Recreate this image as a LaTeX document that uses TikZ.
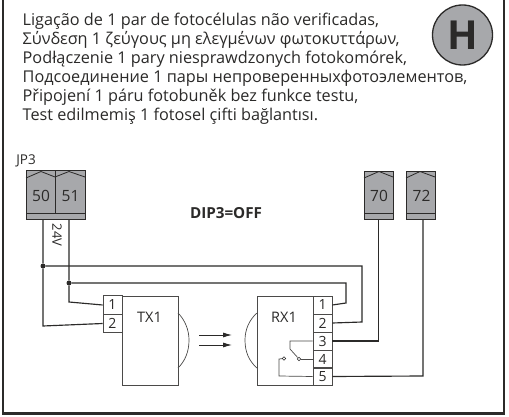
\documentclass[tikz,border=0pt]{standalone}
\usepackage{fontspec}
\setmainfont{Open Sans}
\usetikzlibrary{arrows.meta}
\definecolor{ink}{HTML}{2B2A29}
\definecolor{termgray}{HTML}{A7A8AB}
\tikzset{
  x=1pt,y=-1pt,
  wire/.style={draw=ink,line width=1.15pt},
  thin box/.style={draw=ink!85,line width=.7pt},
  term/.style={draw=ink,fill=termgray,line width=1pt},
  lbl/.style={font=\fontsize{15.5}{16}\selectfont,text=ink,inner sep=0pt},
  jun/.style={circle,fill=ink,inner sep=0pt,minimum size=5pt},
  pin/.style={draw=ink!85,line width=.7pt,minimum width=19pt,inner sep=0pt,font=\fontsize{14}{14}\selectfont,text=ink},
  ring/.style={circle,draw=ink,fill=white,line width=.6pt,inner sep=0pt,minimum size=3.6pt}
}
\begin{document}
\begin{tikzpicture}
\useasboundingbox (0,0) rectangle (509,417);
\fill[white] (0,0) rectangle (509,417);
\draw[draw=ink,line width=2.4pt] (3,-3) -- (3,413.5) -- (504,413.5) -- (504,-3);
\node[anchor=north west,align=left,inner sep=0pt,text=ink,font=\fontsize{16.25}{19}\selectfont] (txt) at (22.5,13) {Ligação de 1 par de fotocélulas não verificadas,\\Σύνδεση 1 ζεύγους μη ελεγμένων φωτοκυττάρων,\\Podłączenie 1 pary niesprawdzonych fotokomórek,\\Подсоединение 1 пары непроверенныхфотоэлементов,\\Připojení 1 páru fotobuněk bez funkce testu,\\Test edilmemiş 1 fotosel çifti bağlantısı.};
\node[circle,draw=ink,fill=termgray,line width=1.3pt,minimum size=60pt,inner sep=0pt,font=\fontsize{40}{40}\selectfont\bfseries,text=ink] (H) at (462.5,35) {H};
% terminals
\path[term] (26,171) rectangle (85,219);
\draw[draw=ink,line width=1pt] (26,213) -- (85,213) (55,171) -- (55,213);
\draw[draw=ink,line width=.8pt] (26,178) -- (41,171.5) -- (55,177) -- (69,171.5) -- (85,177);
\node[lbl] (t50) at (41,196) {50};
\node[lbl] (t51) at (70.5,196) {51};
\node[lbl,font=\fontsize{13.5}{14}\selectfont] (jp) at (26,160.5) {JP3};
\path[term] (364,171.5) rectangle (393,219);
\draw[draw=ink,line width=1pt] (364,213) -- (393,213);
\draw[draw=ink,line width=.8pt] (364,178) -- (379,171.5) -- (393,177);
\node[lbl] (t70) at (379,196) {70};
\path[term] (406,171.5) rectangle (435,219);
\draw[draw=ink,line width=1pt] (406,213) -- (435,213);
\draw[draw=ink,line width=.8pt] (406,178) -- (420,171.5) -- (435,177);
\node[lbl] (t72) at (421.5,196) {72};
\node[font=\fontsize{15.2}{16}\selectfont\bfseries,text=ink,inner sep=0pt] (dip) at (226,213) {DIP3=OFF};
\node[rotate=-90,font=\fontsize{13}{13}\selectfont,text=ink,inner sep=0pt] (v) at (57,235) {24V};
% TX
\draw[thin box] (122,296) rectangle (178,385);
\node[lbl,font=\fontsize{14.5}{15}\selectfont] (tx) at (149.5,317) {TX1};
\node[pin,minimum height=18.5pt] (a1) at (112.5,305) {1};
\node[pin,minimum height=18.5pt] (a2) at (112.5,323.5) {2};
\draw[thin box] (178,313) .. controls (185,320) and (189,330) .. (189,340) .. controls (189,352) and (185,361) .. (178,368);
% arrows
\coordinate (ar1a) at (199,335);
\coordinate (ar1b) at (232,335);
\coordinate (ar2a) at (199,345);
\coordinate (ar2b) at (232,345);
\draw[draw=ink,line width=.8pt,-{Latex[length=9pt,width=5pt]}] (ar1a) -- (ar1b);
\draw[draw=ink,line width=.8pt,-{Latex[length=9pt,width=5pt]}] (ar2a) -- (ar2b);
% RX
\draw[thin box] (257,296) rectangle (313,385);
\node[lbl,font=\fontsize{14.5}{15}\selectfont] (rx) at (284,317) {RX1};
\draw[thin box] (257,313) .. controls (249,320) and (245,330) .. (245,340) .. controls (245,352) and (249,361) .. (257,368);
\node[pin,minimum height=18pt] (b1) at (322.5,305) {1};
\node[pin,minimum height=18pt] (b2) at (322.5,323) {2};
\node[pin,minimum height=18pt] (b3) at (322.5,341) {3};
\node[pin,minimum height=18pt] (b4) at (322.5,359) {4};
\node[pin,minimum height=17.5pt] (b5) at (322.5,376.5) {5};
\node[ring] (c1) at (284,358.5) {};
\node[ring] (c2) at (299,359) {};
\coordinate (k1) at (290,341);
\coordinate (k2) at (290,349);
\coordinate (k3) at (279,359);
\coordinate (k4) at (279,376);
\draw[thin box] (b3.west) -- (k1) -- (k2) -- (c2);
\draw[thin box] (c2) -- (b4.west);
\draw[thin box] (c1) -- (k3) -- (k4) -- (b5.west);
% wires
\coordinate (p50) at (43,219);
\coordinate (p51) at (69,219);
\coordinate (p70) at (378.4,219);
\coordinate (p72) at (423,219);
\node[jun] (d1) at (43,266) {};
\node[jun] (d2) at (69,283) {};
\draw[wire] (p50) -- (d1) -- (43,326) -- (a2.west);
\draw[wire] (p51) -- (d2) -- (69,302) -- (a1.west);
\draw[wire] (d1) -- (362,266) -- (362,322) -- (b2.east);
\draw[wire] (d2) -- (346,283) -- (346,303) -- (b1.east);
\draw[wire] (p70) -- (378.4,341) -- (b3.east);
\draw[wire] (p72) -- (423,376) -- (b5.east);
\end{tikzpicture}
\end{document}
